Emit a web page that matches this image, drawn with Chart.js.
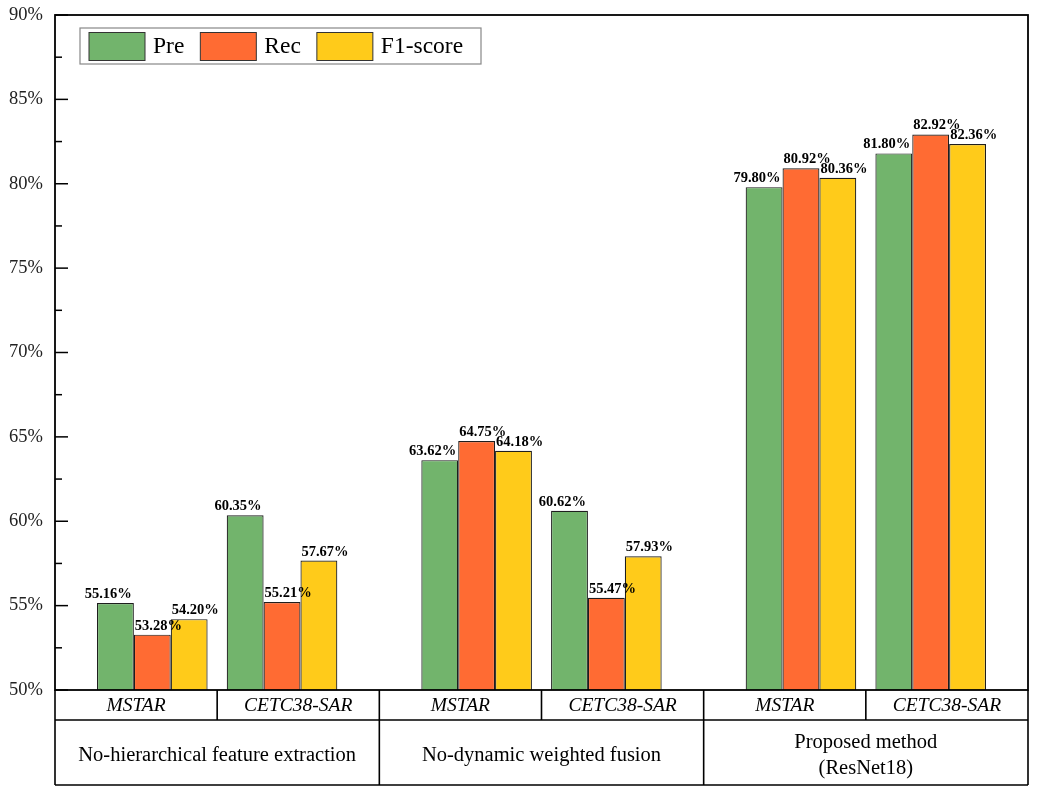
<!DOCTYPE html>
<html>
<head>
<meta charset="utf-8">
<script src="https://cdn.jsdelivr.net/npm/chart.js@4.4.0/dist/chart.umd.min.js"></script>
<style>
  html, body { margin: 0; padding: 0; background: #fff; }
  #wrap { width: 1038px; height: 794px; position: relative; }
</style>
</head>
<body>
<div id="wrap"><canvas id="c" width="1038" height="794"></canvas></div>
<script>
// ---- data ----
const methods = ['No-hierarchical feature extraction', 'No-dynamic weighted fusion', 'Proposed method\n(ResNet18)'];
const datasetNames = ['MSTAR', 'CETC38-SAR'];
const seriesNames = ['Pre', 'Rec', 'F1-score'];
const preValues = [55.16, 60.35, 63.62, 60.62, 79.80, 81.80];
const recValues = [53.28, 55.21, 64.75, 55.47, 80.92, 82.92];
const f1Values  = [54.20, 57.67, 64.18, 57.93, 80.36, 82.36];
const yTicks = [50, 55, 60, 65, 70, 75, 80, 85, 90];

const seriesColors = ['#72B46C', '#FF6B33', '#FFCB1A'];
const SERIF = '"Liberation Serif", "DejaVu Serif", serif';

// each method occupies 5 category slots; datasets sit in slots 1 and 3
const SLOTS = 5;
const slotOf = [1, 3];
const nCat = methods.length * SLOTS;
const labels = [];
for (let i = 0; i < nCat; i++) {
  const s = i % SLOTS;
  const d = slotOf.indexOf(s);
  labels.push(d >= 0 ? datasetNames[d] : '');
}
function expand(vals) {
  const out = new Array(nCat).fill(null);
  vals.forEach((v, k) => {
    const m = Math.floor(k / datasetNames.length), d = k % datasetNames.length;
    out[m * SLOTS + slotOf[d]] = v;
  });
  return out;
}
const allSeries = [preValues, recValues, f1Values];

const framePlugin = {
  id: 'framePlugin',
  afterDatasetsDraw(chart) {
    const ctx = chart.ctx;
    const ca = chart.chartArea;
    const ys = chart.scales.y;
    const L = ca.left, R = ca.right, T = ca.top, B = ca.bottom;
    ctx.save();
    // data labels
    ctx.font = 'bold 14.5px ' + SERIF;
    ctx.fillStyle = '#000';
    ctx.textBaseline = 'alphabetic';
    chart.data.datasets.forEach((ds, di) => {
      const meta = chart.getDatasetMeta(di);
      meta.data.forEach((bar, i) => {
        const v = ds.data[i];
        if (v === null || v === undefined) return;
        const p = bar.getProps(['x', 'y', 'width'], true);
        const txt = v.toFixed(2) + '%';
        if (di === 0) {
          ctx.textAlign = 'right';
          ctx.fillText(txt, p.x + p.width / 2 - 2, p.y - 5);
        } else {
          ctx.textAlign = 'left';
          ctx.fillText(txt, p.x - p.width / 2 + 1, p.y - 5);
        }
      });
    });

    // inward ticks on y axis
    ctx.strokeStyle = '#000';
    ctx.lineWidth = 1.5;
    for (let k = 0; k < yTicks.length; k++) {
      const y = ys.getPixelForValue(yTicks[k]);
      ctx.beginPath(); ctx.moveTo(L, y); ctx.lineTo(L + 13, y); ctx.stroke();
      if (k < yTicks.length - 1) {
        const ym = ys.getPixelForValue((yTicks[k] + yTicks[k + 1]) / 2);
        ctx.beginPath(); ctx.moveTo(L, ym); ctx.lineTo(L + 7, ym); ctx.stroke();
      }
    }

    // plot frame
    ctx.lineWidth = 1.8;
    ctx.strokeRect(L, T, R - L, B - T);

    // category table below
    const row1 = B + 30, row2 = B + 95;
    ctx.lineWidth = 1.6;
    ctx.beginPath();
    ctx.moveTo(L, B); ctx.lineTo(L, row2);
    ctx.moveTo(R, B); ctx.lineTo(R, row2);
    ctx.moveTo(L, row1); ctx.lineTo(R, row1);
    ctx.moveTo(L, row2); ctx.lineTo(R, row2);
    const mw = (R - L) / methods.length;
    const dw = mw / datasetNames.length;
    for (let i = 1; i < methods.length * datasetNames.length; i++) {
      const x = L + i * dw;
      ctx.moveTo(x, B);
      ctx.lineTo(x, (i % datasetNames.length === 0) ? row2 : row1);
    }
    ctx.stroke();

    ctx.fillStyle = '#000';
    ctx.textAlign = 'center';
    ctx.textBaseline = 'middle';
    ctx.font = 'italic 19.5px ' + SERIF;
    for (let m = 0; m < methods.length; m++) {
      for (let d = 0; d < datasetNames.length; d++) {
        const cx = L + m * mw + (d + 0.5) * dw;
        ctx.fillText(datasetNames[d], cx, (B + row1) / 2 + 1);
      }
    }
    ctx.font = '20.5px ' + SERIF;
    for (let m = 0; m < methods.length; m++) {
      const cx = L + (m + 0.5) * mw;
      const lines = methods[m].split('\n');
      const cy = (row1 + row2) / 2 + 3;
      const lh = 26;
      lines.forEach((ln, j) => {
        ctx.fillText(ln, cx, cy + (j - (lines.length - 1) / 2) * lh);
      });
    }

    // legend
    const lx = L + 25, ly = T + 13, lh2 = 36;
    ctx.font = '23.5px ' + SERIF;
    let x = lx + 9;
    const items = [];
    seriesNames.forEach((n, i) => {
      items.push({ n, x, c: seriesColors[i] });
      x += 64 + ctx.measureText(n).width + 16;
    });
    ctx.fillStyle = '#fff';
    ctx.fillRect(lx, ly, 401, lh2);
    ctx.strokeStyle = '#888';
    ctx.lineWidth = 1.2;
    ctx.strokeRect(lx, ly, 401, lh2);
    items.forEach(it => {
      ctx.fillStyle = it.c;
      ctx.fillRect(it.x, ly + 4.5, 56, 28);
      ctx.strokeStyle = '#333';
      ctx.lineWidth = 1;
      ctx.strokeRect(it.x, ly + 4.5, 56, 28);
      ctx.fillStyle = '#000';
      ctx.textAlign = 'left';
      ctx.textBaseline = 'middle';
      ctx.fillText(it.n, it.x + 64, ly + lh2 / 2 + 1);
    });
    ctx.restore();
  }
};

new Chart(document.getElementById('c'), {
  type: 'bar',
  data: {
    labels: labels,
    datasets: allSeries.map((vals, i) => ({
      label: seriesNames[i],
      data: expand(vals),
      backgroundColor: seriesColors[i],
      borderColor: '#1e1e1e',
      borderWidth: 1.2,
      categoryPercentage: 1.705,
      barPercentage: 1.0,
      skipNull: false
    }))
  },
  options: {
    responsive: false,
    animation: false,
    devicePixelRatio: 1,
    layout: { padding: { top: 15, right: 10, bottom: 104, left: 0 } },
    plugins: {
      legend: { display: false },
      tooltip: { enabled: false }
    },
    scales: {
      x: {
        display: false,
        offset: true
      },
      y: {
        min: 50,
        max: 90,
        afterFit(scale) {
          scale.width = 55;
          scale.paddingTop = 0;
          scale.paddingBottom = 0;
        },
        grid: { display: false, drawTicks: false },
        border: { display: false },
        ticks: {
          stepSize: 5,
          padding: 12,
          color: '#222',
          font: { family: SERIF, size: 18.5 },
          callback: v => v + '%'
        }
      }
    }
  },
  plugins: [framePlugin]
});
</script>
</body>
</html>
